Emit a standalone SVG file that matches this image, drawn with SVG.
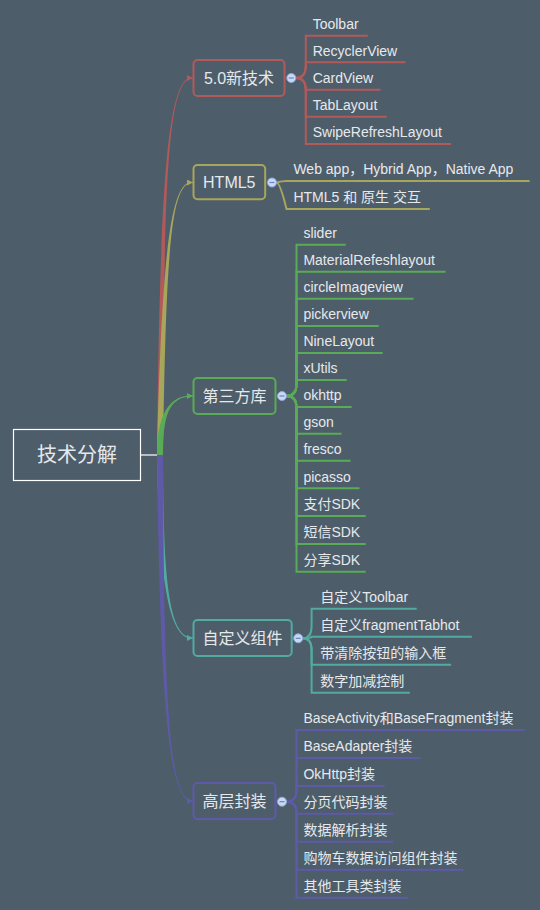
<svg xmlns="http://www.w3.org/2000/svg" width="540" height="910" viewBox="0 0 540 910">
<defs>
<style>
text{font-family:"Liberation Sans","Noto Sans CJK SC",sans-serif;fill:#e6e9ec}
.leaf{font-size:14px}
.main{font-size:16px;text-anchor:middle}
.root{font-size:20px;text-anchor:middle}
.box{fill:none;stroke-width:2}
.ln{fill:none;stroke-width:2}
.tr{fill:none;stroke-width:1.2}
.red{stroke:#b25a5a}.olive{stroke:#a8a65a}.green{stroke:#5aab55}.teal{stroke:#52aaa2}.purple{stroke:#5e5aa8}
.fred{fill:#b25a5a}.folive{fill:#a8a65a}.fgreen{fill:#5aab55}.fteal{fill:#52aaa2}.fpurple{fill:#5e5aa8}
.tog{fill:#c9d8f3;stroke:#8fa8d8;stroke-width:1}
.minus{stroke:#6a86c0;stroke-width:1.2}
</style>
<marker id="aR" markerUnits="userSpaceOnUse" markerWidth="6" markerHeight="6" refX="6" refY="3" orient="auto"><path d="M0,0 L6,3 L0,6 z" fill="#b25a5a"/></marker>
<marker id="aO" markerUnits="userSpaceOnUse" markerWidth="6" markerHeight="6" refX="6" refY="3" orient="auto"><path d="M0,0 L6,3 L0,6 z" fill="#a8a65a"/></marker>
<marker id="aG" markerUnits="userSpaceOnUse" markerWidth="6" markerHeight="6" refX="6" refY="3" orient="auto"><path d="M0,0 L6,3 L0,6 z" fill="#5aab55"/></marker>
<marker id="aT" markerUnits="userSpaceOnUse" markerWidth="6" markerHeight="6" refX="6" refY="3" orient="auto"><path d="M0,0 L6,3 L0,6 z" fill="#52aaa2"/></marker>
<marker id="aP" markerUnits="userSpaceOnUse" markerWidth="6" markerHeight="6" refX="6" refY="3" orient="auto"><path d="M0,0 L6,3 L0,6 z" fill="#5e5aa8"/></marker>
</defs>
<rect x="0" y="0" width="540" height="910" fill="#4e5d6a"/>

<g id="connectors">
<line x1="140.5" y1="455" x2="158" y2="455" stroke="#ffffff" stroke-width="1.2"/>
<!-- tapered main branches -->
<path class="fred" d="M157,455 C160,200 166,77 192,77.4 L192,78.6 C166,79 164,200 163,455 Z"/>
<path class="tr red" d="M191,78 L193,78" marker-end="url(#aR)"/>
<path class="folive" d="M157,455 C162,250 171,181.5 192,181.9 L192,183.1 C171,183.5 166,250 163,455 Z"/>
<path class="tr olive" d="M191,182.5 L193,182.5" marker-end="url(#aO)"/>
<path class="fteal" d="M157,455 C159,580 169,639 192,638.6 L192,637.4 C169,637 163,580 163,455 Z"/>
<path class="tr teal" d="M191,638 L193,638" marker-end="url(#aT)"/>
<path class="fpurple" d="M157,455 C160,700 169,802 192,801.6 L192,800.4 C169,800 164,700 163,455 Z"/>
<path class="tr purple" d="M191,801 L193,801" marker-end="url(#aP)"/>
<path class="fgreen" d="M157,455 C157,415 169,395 192,395.4 L192,396.6 C169,397 163,415 163,455 Z"/>
<path class="tr green" d="M191,396 L193,396" marker-end="url(#aG)"/>

<!-- 5.0 children -->
<g class="ln red">
<path d="M295.8,78 Q305.8,78 305.8,66 L305.8,35.7 L367.8,35.7"/>
<path d="M295.8,78 Q305.8,78 305.8,66 L305.8,62.3 L405.6,62.3"/>
<path d="M295.8,78 Q305.8,78 305.8,89.7 L380.5,89.7"/>
<path d="M295.8,78 Q305.8,78 305.8,90 L305.8,116.7 L386.7,116.7"/>
<path d="M295.8,78 Q305.8,78 305.8,90 L305.8,144 L451.1,144"/>
</g>
<!-- HTML5 children -->
<g class="ln olive">
<path d="M276.5,182.5 Q282,181 286.5,181 L529.6,181"/>
<path d="M276.5,182.5 Q280,182.5 286.5,209 L429.8,209"/>
</g>
<!-- third party children -->
<g class="ln green">
<path d="M286.5,396 Q296.5,396 296.5,384 L296.5,244.7 L345.7,244.7"/>
<path d="M286.5,396 Q296.5,396 296.5,384 L296.5,271.7 L445.6,271.7"/>
<path d="M286.5,396 Q296.5,396 296.5,384 L296.5,298.7 L413.6,298.7"/>
<path d="M286.5,396 Q296.5,396 296.5,384 L296.5,326 L378.8,326"/>
<path d="M286.5,396 Q296.5,396 296.5,384 L296.5,353 L382.6,353"/>
<path d="M286.5,396 Q296.5,396 296.5,384 L296.5,380 L346.8,380"/>
<path d="M286.5,396 Q296.5,396 296.5,407 L351.6,407"/>
<path d="M286.5,396 Q296.5,396 296.5,408 L296.5,433.7 L341.6,433.7"/>
<path d="M286.5,396 Q296.5,396 296.5,408 L296.5,460.7 L350.6,460.7"/>
<path d="M286.5,396 Q296.5,396 296.5,408 L296.5,488.3 L359.5,488.3"/>
<path d="M286.5,396 Q296.5,396 296.5,408 L296.5,516 L365.7,516"/>
<path d="M286.5,396 Q296.5,396 296.5,408 L296.5,544 L365.7,544"/>
<path d="M286.5,396 Q296.5,396 296.5,408 L296.5,571.7 L365.7,571.7"/>
</g>
<!-- custom component children -->
<g class="ln teal">
<path d="M302.7,638.3 Q311.6,638.3 311.6,626 L311.6,608.7 L416.7,608.7"/>
<path d="M302.7,638.3 Q311.6,638.3 311.6,636.7 L471.8,636.7"/>
<path d="M302.7,638.3 Q311.6,638.3 311.6,650 L311.6,664.7 L451.1,664.7"/>
<path d="M302.7,638.3 Q311.6,638.3 311.6,650 L311.6,692.7 L409.8,692.7"/>
</g>
<!-- high level children -->
<g class="ln purple">
<path d="M286.5,801.7 Q296.5,801.7 296.5,790 L296.5,730 L524.5,730"/>
<path d="M286.5,801.7 Q296.5,801.7 296.5,790 L296.5,758 L420.5,758"/>
<path d="M286.5,801.7 Q296.5,801.7 296.5,790 L296.5,786 L384.6,786"/>
<path d="M286.5,801.7 Q296.5,801.7 296.5,813.7 L393.3,813.7"/>
<path d="M286.5,801.7 Q296.5,801.7 296.5,813 L296.5,841.7 L393.3,841.7"/>
<path d="M286.5,801.7 Q296.5,801.7 296.5,813 L296.5,869.7 L463.5,869.7"/>
<path d="M286.5,801.7 Q296.5,801.7 296.5,813 L296.5,897.7 L407.7,897.7"/>
</g>
</g>

<g id="root">
<rect x="13.5" y="429.5" width="127" height="51" fill="none" stroke="#ffffff" stroke-width="1.2"/>
<text class="root" x="77" y="462">技术分解</text>
</g>

<g id="n-new">
<rect class="box red" x="193.5" y="60" width="91" height="36" rx="4"/>
<text class="main" x="239" y="83.5">5.0新技术</text>
<circle class="tog" cx="291.3" cy="78" r="4.5"/><line class="minus" x1="288.8" y1="78" x2="293.8" y2="78"/>
</g>
<g id="n-new-children">
<text class="leaf" x="312.7" y="29">Toolbar</text>
<text class="leaf" x="312.7" y="55.5">RecyclerView</text>
<text class="leaf" x="312.7" y="83">CardView</text>
<text class="leaf" x="312.7" y="110">TabLayout</text>
<text class="leaf" x="312.7" y="137.3">SwipeRefreshLayout</text>
</g>

<g id="n-html5">
<rect class="box olive" x="193.5" y="165" width="71.7" height="34.3" rx="4"/>
<text class="main" x="229.3" y="188">HTML5</text>
<circle class="tog" cx="272" cy="182.5" r="4.5"/><line class="minus" x1="269.5" y1="182.5" x2="274.5" y2="182.5"/>
</g>
<g id="n-html5-children">
<text class="leaf" x="293.4" y="174.3">Web app，Hybrid App，Native App</text>
<text class="leaf" x="293.4" y="202.2">HTML5 和 原生 交互</text>
</g>

<g id="n-third">
<rect class="box green" x="193.5" y="378" width="82" height="36" rx="4"/>
<text class="main" x="234.5" y="401.5">第三方库</text>
<circle class="tog" cx="282" cy="396" r="4.5"/><line class="minus" x1="279.5" y1="396" x2="284.5" y2="396"/>
</g>
<g id="n-third-children">
<text class="leaf" x="303.4" y="238">slider</text>
<text class="leaf" x="303.4" y="265">MaterialRefeshlayout</text>
<text class="leaf" x="303.4" y="292">circleImageview</text>
<text class="leaf" x="303.4" y="319.3">pickerview</text>
<text class="leaf" x="303.4" y="346.3">NineLayout</text>
<text class="leaf" x="303.4" y="373.3">xUtils</text>
<text class="leaf" x="303.4" y="400.3">okhttp</text>
<text class="leaf" x="303.4" y="427">gson</text>
<text class="leaf" x="303.4" y="454">fresco</text>
<text class="leaf" x="303.4" y="481.5">picasso</text>
<text class="leaf" x="303.4" y="509.3">支付SDK</text>
<text class="leaf" x="303.4" y="537.3">短信SDK</text>
<text class="leaf" x="303.4" y="565">分享SDK</text>
</g>

<g id="n-custom">
<rect class="box teal" x="193.5" y="620" width="98.2" height="36" rx="4"/>
<text class="main" x="242.6" y="643.8">自定义组件</text>
<circle class="tog" cx="298.2" cy="638.3" r="4.5"/><line class="minus" x1="295.7" y1="638.3" x2="300.7" y2="638.3"/>
</g>
<g id="n-custom-children">
<text class="leaf" x="320.2" y="601.7">自定义Toolbar</text>
<text class="leaf" x="320.2" y="629.7">自定义fragmentTabhot</text>
<text class="leaf" x="320.2" y="657.7">带清除按钮的输入框</text>
<text class="leaf" x="320.2" y="685.7">数字加减控制</text>
</g>

<g id="n-high">
<rect class="box purple" x="193.5" y="783" width="82" height="36" rx="4"/>
<text class="main" x="234.5" y="806.8">高层封装</text>
<circle class="tog" cx="282" cy="801.7" r="4.5"/><line class="minus" x1="279.5" y1="801.7" x2="284.5" y2="801.7"/>
</g>
<g id="n-high-children">
<text class="leaf" x="303.4" y="723">BaseActivity和BaseFragment封装</text>
<text class="leaf" x="303.4" y="751">BaseAdapter封装</text>
<text class="leaf" x="303.4" y="779">OkHttp封装</text>
<text class="leaf" x="303.4" y="806.7">分页代码封装</text>
<text class="leaf" x="303.4" y="834.7">数据解析封装</text>
<text class="leaf" x="303.4" y="862.7">购物车数据访问组件封装</text>
<text class="leaf" x="303.4" y="890.7">其他工具类封装</text>
</g>
</svg>
